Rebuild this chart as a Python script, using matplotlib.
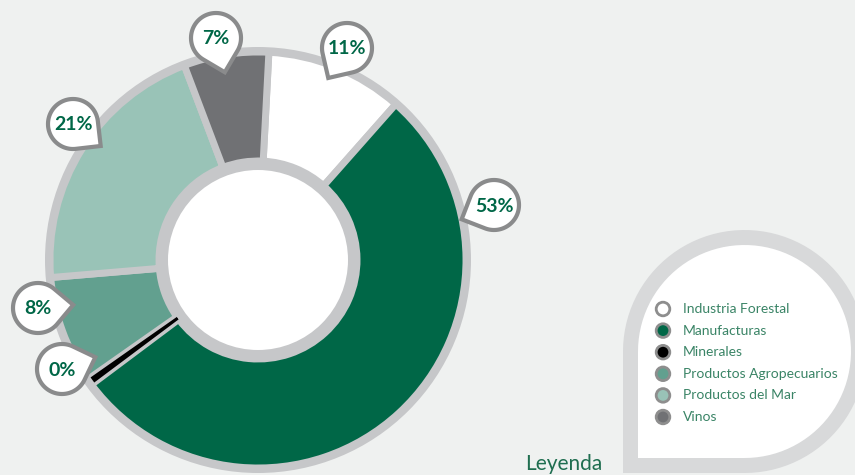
"""Donut chart of export shares by sector, with pin labels and a bubble legend."""

import numpy as np
import matplotlib.pyplot as plt
import matplotlib.patches as patches

# data (shares, labels are the rounded values)
sectors = ['Industria Forestal', 'Manufacturas', 'Minerales',
           'Productos Agropecuarios', 'Productos del Mar', 'Vinos']
shares = [10.7, 53.3, 0.49, 8.4, 20.6, 6.6]
colors = ['#ffffff', '#006747', '#000000', '#62a08f', '#99c3b7', '#707174']

W, H = 855, 475
BG = '#eff1f0'
RING = '#c6c7c9'
PIN = '#8a8b8c'
GREEN = '#006747'
FONT = ['Lato', 'DejaVu Sans']


def Y(py):
    # pixel row (top down) -> data y (bottom up)
    return H - py


def pin_shape(cx, cy, r, tip_angle, n=80):
    """Circle with one squared corner pointing at tip_angle (degrees)."""
    a0 = np.radians(tip_angle + 45)
    a1 = np.radians(tip_angle + 315)
    t = np.linspace(a0, a1, n)
    pts = [(cx + r * np.cos(a), cy + r * np.sin(a)) for a in t]
    ta = np.radians(tip_angle)
    pts.append((cx + r * np.sqrt(2) * np.cos(ta), cy + r * np.sqrt(2) * np.sin(ta)))
    return pts


fig = plt.figure(figsize=(W / 100, H / 100), dpi=100, facecolor=BG)
ax = fig.add_axes([0, 0, 1, 1])
ax.set_facecolor(BG)

# donut
cx, cy = 258, Y(260)
r_out, r_in = 208, 99
ax.add_patch(patches.Circle((cx, cy), 213, facecolor=RING, edgecolor='none', zorder=1))
wedges, _ = ax.pie(shares, colors=colors, startangle=87, counterclock=False,
                   radius=r_out, center=(cx, cy),
                   wedgeprops=dict(width=r_out - r_in, edgecolor=RING, linewidth=5))
for w in wedges:
    w.set_zorder(2)
# the tiny Minerales slice sits on top of the separators so it stays visible
wedges[2].set_zorder(3)
wedges[2].set_linewidth(0)
wedges[2].set_radius(204.5)
wedges[2].set_width(204.5 - r_in)
ax.add_patch(patches.Circle((cx, cy), r_in, facecolor=RING, edgecolor='none', zorder=4))
ax.add_patch(patches.Circle((cx, cy), 90, facecolor='white', edgecolor='none', zorder=5))

# pin labels: centre and tip (pixels)
pin_centres = [(347, 48), (494, 205), (62, 369), (38, 308), (73, 124), (216, 38)]
pin_tips = [(327, 80), (460, 220), (93, 358), (72, 305), (102, 147), (225, 73)]
for share, (px, py), (tx, ty) in zip(shares, pin_centres, pin_tips):
    ang = np.degrees(np.arctan2(Y(ty) - Y(py), tx - px))
    pin = patches.Polygon(pin_shape(px, Y(py), 25, ang), closed=True,
                          facecolor='white', edgecolor=PIN, linewidth=3,
                          joinstyle='miter', zorder=6)
    ax.add_patch(pin)
    ax.text(px, Y(py) - 1, f'{round(share)}%', ha='center', va='center',
            fontsize=14, fontweight='bold', color=GREEN, family=FONT, zorder=7)

# legend bubble
bubble = patches.Polygon(pin_shape(744.5, Y(351.5), 114, 225), closed=True,
                         facecolor='white', edgecolor='#d8d9da', linewidth=10.8,
                         joinstyle='miter', zorder=1)
ax.add_patch(bubble)
for i, (name, col) in enumerate(zip(sectors, colors)):
    yy = Y(309 + i * 21.6)
    ax.add_patch(patches.Circle((663, yy), 6.8, facecolor=col, edgecolor='#8e8e8e',
                                linewidth=2, zorder=3))
    ax.text(683, yy, name, ha='left', va='center', fontsize=10,
            color='#3a8466', family=FONT, zorder=3)

ax.text(525, Y(470), 'Leyenda', ha='left', va='baseline', fontsize=15,
        color='#1f6e50', family=FONT)

ax.set_xlim(0, W)
ax.set_ylim(0, H)
ax.set_aspect('equal')
ax.axis('off')

fig.savefig('out.png', dpi=100, facecolor=BG)
